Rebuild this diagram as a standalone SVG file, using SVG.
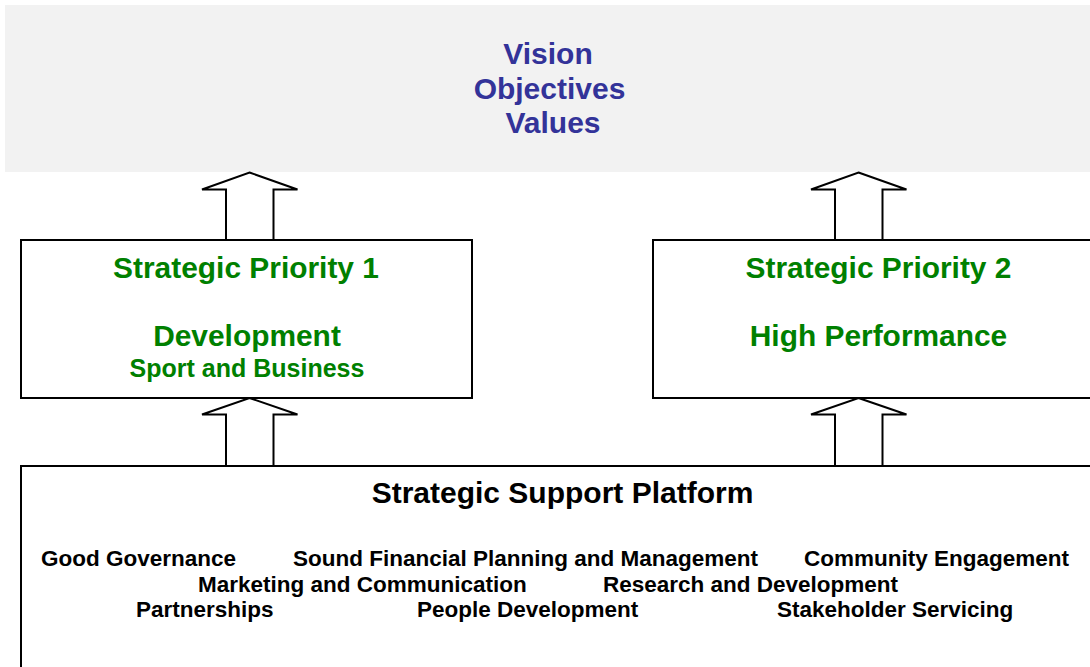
<svg xmlns="http://www.w3.org/2000/svg" width="1090" height="667" viewBox="0 0 1090 667">
<style>
.box{fill:#fff;stroke:#000;stroke-width:2}
.arr{fill:#fff;stroke:#000;stroke-width:2;stroke-linejoin:miter}
text{font-family:"Liberation Sans",Arial,sans-serif;font-weight:bold}
.blue{fill:#333399;font-size:30px;text-anchor:middle}
.green{fill:#008000;font-size:29.9px;text-anchor:middle}
.greens{fill:#008000;font-size:25px;text-anchor:middle}
.title{fill:#000;font-size:30px;text-anchor:middle}
.item{fill:#000;font-size:22.5px}
</style>
<rect width="1090" height="667" fill="#fff"/>
<g id="vision">
<rect x="5" y="5" width="1090" height="167" fill="#f2f2f2"/>
<text class="blue" x="548" y="64">Vision</text>
<text class="blue" x="549.5" y="99">Objectives</text>
<text class="blue" x="553" y="133">Values</text>
</g>
<g id="priority1">
<rect class="box" x="21" y="240" width="451" height="158"/>
<text class="green" x="246" y="278">Strategic Priority 1</text>
<text class="green" x="247" y="346">Development</text>
<text class="greens" x="247" y="377">Sport and Business</text>
</g>
<g id="priority2">
<rect class="box" x="653" y="240" width="450" height="158"/>
<text class="green" x="878.5" y="278">Strategic Priority 2</text>
<text class="green" x="878.5" y="346">High Performance</text>
</g>
<g id="platform">
<rect class="box" x="21" y="466" width="1080" height="210"/>
<text class="title" x="562.5" y="503">Strategic Support Platform</text>
<text class="item" x="41" y="566">Good Governance</text>
<text class="item" x="293" y="566">Sound Financial Planning and Management</text>
<text class="item" x="804" y="566">Community Engagement</text>
<text class="item" x="198" y="591.5">Marketing and Communication</text>
<text class="item" x="603" y="591.5">Research and Development</text>
<text class="item" x="136" y="616.5">Partnerships</text>
<text class="item" x="417" y="616.5">People Development</text>
<text class="item" x="777" y="616.5">Stakeholder Servicing</text>
</g>
<g id="connectors">
<polygon class="arr" points="249.5,172.5 297.5,189.5 273.5,189.5 273.5,240 226,240 226,189.5 202,189.5"/>
<polygon class="arr" points="858.5,172.5 906.5,189.5 882.5,189.5 882.5,240 835,240 835,189.5 811,189.5"/>
<polygon class="arr" points="249.5,398 297.5,414.5 273.5,414.5 273.5,466 226,466 226,414.5 202,414.5"/>
<polygon class="arr" points="858.5,398 906.5,414.5 882.5,414.5 882.5,466 835,466 835,414.5 811,414.5"/>
</g>
</svg>
